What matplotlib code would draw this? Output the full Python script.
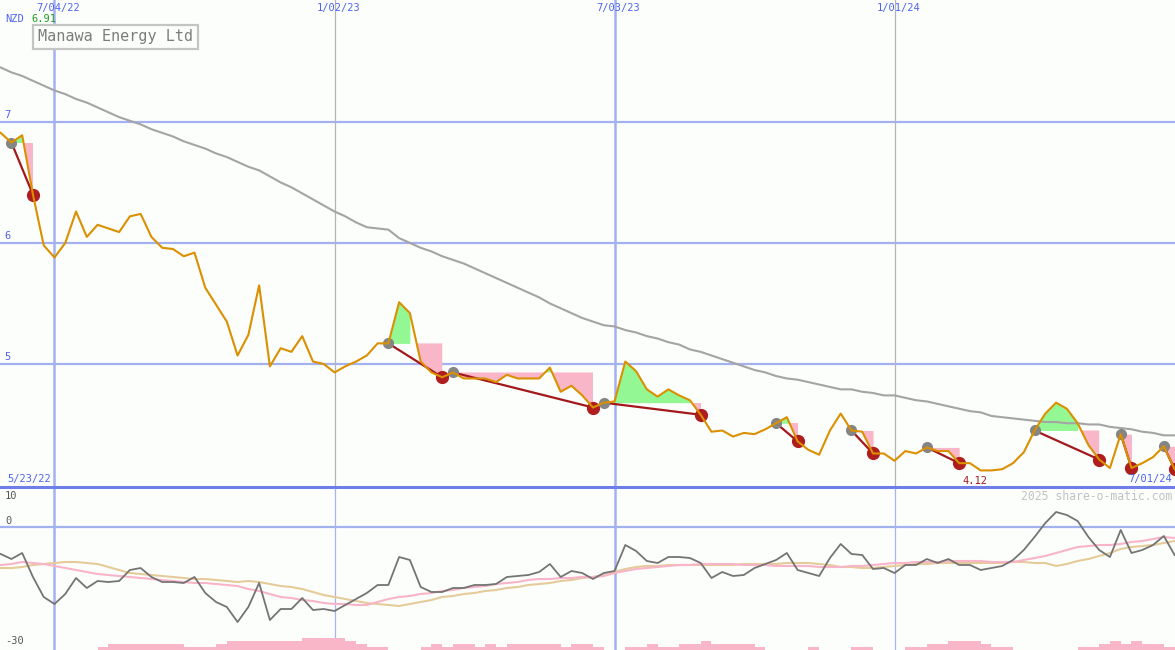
import numpy as np
import matplotlib

matplotlib.use("Agg")

import matplotlib.pyplot as plt
import matplotlib.transforms as mtransforms
from matplotlib.lines import Line2D

# weekly points, week 0 = 7/04/22
weeks = np.arange(-5, 105)

price = [
    6.91, 6.83, 6.89, 6.40, 5.98, 5.88, 6.00, 6.26, 6.05, 6.15,
    6.12, 6.09, 6.22, 6.24, 6.05, 5.96, 5.95, 5.89, 5.92, 5.63,
    5.49, 5.35, 5.07, 5.24, 5.65, 4.98, 5.13, 5.10, 5.23, 5.02,
    5.00, 4.93, 4.98, 5.02, 5.07, 5.17, 5.17, 5.51, 5.42, 5.02,
    4.93, 4.89, 4.93, 4.88, 4.88, 4.88, 4.85, 4.91, 4.88, 4.88,
    4.88, 4.97, 4.77, 4.82, 4.74, 4.64, 4.68, 4.69, 5.02, 4.94,
    4.79, 4.73, 4.79, 4.74, 4.70, 4.58, 4.44, 4.45, 4.40, 4.43,
    4.42, 4.46, 4.51, 4.56, 4.36, 4.29, 4.25, 4.45, 4.59, 4.45,
    4.44, 4.26, 4.26, 4.20, 4.28, 4.26, 4.31, 4.28, 4.28, 4.18,
    4.18, 4.12, 4.12, 4.13, 4.18, 4.27, 4.45, 4.59, 4.68, 4.63,
    4.51, 4.33, 4.21, 4.14, 4.42, 4.14, 4.18, 4.23, 4.32, 4.13,
]

long_ma = [
    7.45, 7.41, 7.38, 7.34, 7.30, 7.26, 7.23, 7.19, 7.16, 7.12,
    7.08, 7.04, 7.01, 6.98, 6.94, 6.91, 6.88, 6.84, 6.81, 6.78,
    6.74, 6.71, 6.67, 6.63, 6.60, 6.55, 6.50, 6.46, 6.41, 6.36,
    6.31, 6.26, 6.22, 6.17, 6.13, 6.12, 6.11, 6.04, 6.00, 5.96,
    5.93, 5.89, 5.86, 5.83, 5.79, 5.75, 5.71, 5.67, 5.63, 5.59,
    5.55, 5.50, 5.46, 5.42, 5.38, 5.35, 5.32, 5.31, 5.28, 5.26,
    5.23, 5.21, 5.18, 5.16, 5.12, 5.10, 5.07, 5.04, 5.01, 4.98,
    4.95, 4.93, 4.90, 4.88, 4.87, 4.85, 4.83, 4.81, 4.79, 4.79,
    4.77, 4.76, 4.74, 4.74, 4.72, 4.70, 4.69, 4.67, 4.65, 4.63,
    4.61, 4.60, 4.57, 4.56, 4.55, 4.54, 4.53, 4.52, 4.52, 4.51,
    4.51, 4.50, 4.50, 4.48, 4.47, 4.46, 4.44, 4.43, 4.41, 4.41,
]

oscillator = [
    -6.75, -8, -6.5, -12.5, -17.5, -19.25, -16.75, -12.75, -15.25, -13.5,
    -13.75, -13.5, -10.75, -10.25, -12.5, -13.75, -13.75, -14, -12.5, -16.5,
    -18.75, -20, -23.75, -20, -14, -23.25, -20.5, -20.5, -17.75, -20.75,
    -20.5, -21, -19.5, -18, -16.5, -14.5, -14.5, -7.5, -8.25, -15,
    -16.25, -16.25, -15.25, -15.25, -14.5, -14.5, -14.25, -12.5, -12.25, -12,
    -11.25, -9.25, -12.5, -11, -11.5, -13, -11.5, -11, -4.5, -6,
    -8.5, -9, -7.5, -7.5, -7.75, -9, -12.75, -11.25, -12.25, -12,
    -10.25, -9.25, -8.25, -6.5, -10.75, -11.5, -12.25, -7.75, -4.25, -6.75,
    -7, -10.5, -10.25, -11.5, -9.5, -9.5, -8, -9, -8, -9.5,
    -9.5, -10.75, -10.25, -9.75, -8.25, -5.75, -2.5, 1, 3.75, 3,
    1.5, -2.5, -5.75, -7.5, -0.75, -6.5, -5.75, -4.5, -2.25, -7,
]

osc_fast = [
    -9.5, -9.25, -8.75, -9, -9.25, -9.75, -10.25, -10.75, -11.25, -11.75,
    -12, -12.25, -12.5, -12.75, -13, -13.25, -13.5, -13.75, -14, -14,
    -14.25, -14.5, -14.75, -15.5, -16, -16.75, -17.5, -17.75, -18.25, -18.5,
    -19, -19.25, -19.25, -19.5, -19.5, -18.75, -18, -17.5, -17.25, -16.75,
    -16.5, -16, -15.75, -15.25, -15, -14.75, -14.25, -14, -13.75, -13.25,
    -13, -13, -12.75, -12.75, -12.5, -12.5, -12.25, -11.5, -11, -10.5,
    -10.25, -10, -9.75, -9.5, -9.5, -9.25, -9.25, -9.25, -9.25, -9.5,
    -9.5, -9.5, -9.75, -9.75, -9.75, -9.75, -10, -10, -10, -9.75,
    -9.75, -9.5, -9.25, -9, -9, -8.75, -8.75, -8.75, -8.5, -8.5,
    -8.5, -8.5, -8.75, -8.75, -8.75, -8.25, -7.75, -7.25, -6.5, -5.75,
    -5, -4.75, -4.5, -4.5, -4.25, -3.75, -3.5, -3, -2.5, -2.75,
]

osc_slow = [
    -10.25, -10.25, -10, -9.5, -9.25, -9, -8.75, -8.75, -9, -9.25,
    -10, -10.75, -11.5, -11.75, -12, -12.25, -12.5, -12.75, -13, -13,
    -13.25, -13.5, -13.75, -13.5, -13.75, -14.25, -14.75, -15, -15.5, -16.25,
    -17, -17.5, -18, -18.5, -19, -19.25, -19.5, -19.75, -19.25, -18.75,
    -18.25, -17.5, -17.25, -16.75, -16.5, -16, -15.75, -15.25, -15, -14.5,
    -14.25, -14, -13.5, -13.25, -12.75, -12.5, -12, -11.25, -10.5, -10,
    -9.75, -9.75, -9.5, -9.5, -9.5, -9.5, -9.5, -9.5, -9.5, -9.25,
    -9.25, -9.25, -9.25, -9, -9, -9, -9.25, -9.5, -10, -10,
    -10.25, -10.25, -10, -9.75, -9.5, -9.25, -9.25, -9, -9, -9,
    -9, -9, -9, -9, -8.75, -8.75, -9, -9, -9.75, -9.25,
    -8.5, -8, -7.25, -6.5, -5.5, -5, -4.75, -4.5, -4, -3.5,
]

volume = [
    0, 0, 0, 0, 0, 0, 0, 0, 0,
    1, 2, 2, 2, 2, 2, 2, 2, 1, 1, 1, 2, 3, 3, 3, 3, 3, 3, 3, 4, 4, 4, 4, 3, 2, 1, 1,
    0, 0, 0, 1, 2, 1, 2, 2, 1, 2, 1, 2, 2, 2, 2, 2, 1, 2, 2, 1, 0, 0,
    1, 1, 2, 1, 1, 2, 2, 3, 2, 2, 2, 2, 1, 0, 0, 0, 0, 1, 0, 0, 0, 1, 1, 0, 0, 0,
    1, 1, 2, 2, 3, 3, 3, 2, 1, 1, 0, 0, 0, 0, 0, 0, 1, 1, 2, 3, 2, 3, 2, 2, 1, 0,
]

# trades: entry week, last week of the green run, exit week
trade_entry = [-4, 31, 37, 51, 67, 74, 81, 91, 99, 103]
trade_green_end = [-3, 33, 50, 59, 69, 76, 84, 95, 100, 104]
trade_exit = [-2, 36, 50, 60, 69, 76, 84, 97, 100, 104]

date_weeks = [0, 26, 52, 78]
date_labels = ["7/04/22", "1/02/23", "7/03/23", "1/01/24"]
date_major = [True, False, True, False]
price_levels = [7, 6, 5]

BG = "#FCFEFC"
BLUE_GRID = "#A3B1F0"
BLUE_TEXT = "#4F62F0"
ORANGE = "#DA9000"
MONO = "DejaVu Sans Mono"

price = np.array(price)
W, H = 1175, 650
X_LIM = (-5.06, 104.04)

fig = plt.figure(figsize=(W / 100, H / 100), dpi=100, facecolor=BG)
ax = fig.add_axes([0, 163 / H, 1, 487 / H], facecolor=BG)
axb = fig.add_axes([0, 0, 1, 163 / H], facecolor=BG)
for a in (ax, axb):
    a.set_xlim(*X_LIM)
    a.set_xticks([])
    a.set_yticks([])
    for s in a.spines.values():
        s.set_visible(False)
ax.set_ylim(3.983, 8.008)
axb.set_ylim(-30.75, 10)

# grid
ytrans = mtransforms.blended_transform_factory(ax.transAxes, ax.transData)
xtrans = mtransforms.blended_transform_factory(ax.transData, ax.transAxes)
for lvl in price_levels:
    ax.axhline(lvl, color=BLUE_GRID, lw=1.6, zorder=1)
    ax.text(0.004, lvl + 0.02, str(lvl), transform=ytrans,
            color=BLUE_TEXT, fontsize=7.5, family=MONO, va="bottom", ha="left")
axb.axhline(0, color=BLUE_GRID, lw=1.6, zorder=1)
for wk, lab, major in zip(date_weeks, date_labels, date_major):
    if major:
        ax.axvline(wk, color=BLUE_GRID, lw=1.8, zorder=1)
        axb.axvline(wk, color=BLUE_GRID, lw=1.8, zorder=1)
    else:
        ax.axvline(wk, color="#B4B4B8", lw=0.9, zorder=1)
        axb.axvline(wk, color="#A8B4F0", lw=0.9, zorder=1)
    ax.text(wk + 0.35, 1 - 3 / 487, lab, transform=xtrans,
            color=BLUE_TEXT, fontsize=7.5, family=MONO, ha="center", va="top")

# panel divider
fig.add_artist(Line2D([0, 1], [1 - 487 / H, 1 - 487 / H], transform=fig.transFigure,
                      color="#6E7EE8", lw=2.2, zorder=10))

# trade fills
for e, g, x in zip(trade_entry, trade_green_end, trade_exit):
    i0, ig, i1 = e + 5, g + 5, x + 5
    level = price[i0]
    ax.fill_between(weeks[i0:i1 + 1], level, price[i0:i1 + 1], where=price[i0:i1 + 1] <= level,
                    interpolate=True, color="#FAB6C9", lw=0, zorder=2)
    ax.fill_between(weeks[i0:ig + 1], level, price[i0:ig + 1], where=price[i0:ig + 1] >= level,
                    interpolate=True, color="#93F793", lw=0, zorder=2)

ax.plot(weeks, long_ma, color="#A4A4A4", lw=1.5, zorder=3)

for e, x in zip(trade_entry, trade_exit):
    ax.plot([e, x], [price[e + 5], price[x + 5]], color="#A3181C", lw=1.6, zorder=4)
ax.plot(trade_entry, price[np.array(trade_entry) + 5], "o", color="#858585", ms=7, zorder=5)
ax.plot(trade_exit, price[np.array(trade_exit) + 5], "o", color="#AE1E1E", ms=8.5, zorder=5)
ax.plot(weeks, price, color=ORANGE, lw=1.5, zorder=6)

# labels in price panel
fig.text(5 / W, 1 - 19 / H, "NZD", color=BLUE_TEXT, fontsize=7.5, family=MONO, va="center")
fig.text(31 / W, 1 - 19 / H, f"{price[0]:.2f}", color="#1E9E1E", fontsize=7.5, family=MONO, va="center")
fig.text(38 / W, 1 - 37 / H, "Manawa Energy Ltd", color="#7C7C7C", fontsize=10.9, family=MONO, va="center",
         bbox=dict(boxstyle="square,pad=0.3", fc=BG, ec="#C4C4C4", lw=1.6))
fig.text(7 / W, 1 - 479 / H, "5/23/22", color=BLUE_TEXT, fontsize=7.5, family=MONO, va="center")
fig.text(1172 / W, 1 - 479 / H, "7/01/24", color=BLUE_TEXT, fontsize=7.5, family=MONO, va="center", ha="right")
imin = int(np.argmin(price))
ax.text(weeks[imin] - 0.5, 4.035, f"{price[imin]:.2f}", color="#A3181C", fontsize=7.5, family=MONO,
        ha="center", va="center")

# lower panel
vax = axb.twinx()
vax.set_axis_off()
vax.set_ylim(0, 163 / 3.1)
vax.bar(weeks, volume, width=1, align="edge", color="#FAB6C9", lw=0)
axb.plot(weeks, osc_slow, color="#E5CB9A", lw=1.5, zorder=3)
axb.plot(weeks, osc_fast, color="#F8B4C8", lw=1.5, zorder=3)
axb.plot(weeks, oscillator, color="#747474", lw=1.3, zorder=4)
for v, yp in ((10, 496), (0, 521), (-30, 641)):
    fig.text(5 / W, 1 - yp / H, str(v), color="#555555", fontsize=7.5, family=MONO, va="center")
fig.text(1172 / W, 1 - 496 / H, "2025 share-o-matic.com", color="#C2C2C2", fontsize=8.3, family=MONO,
         va="center", ha="right")

fig.savefig("out.png", dpi=100, facecolor=BG)
